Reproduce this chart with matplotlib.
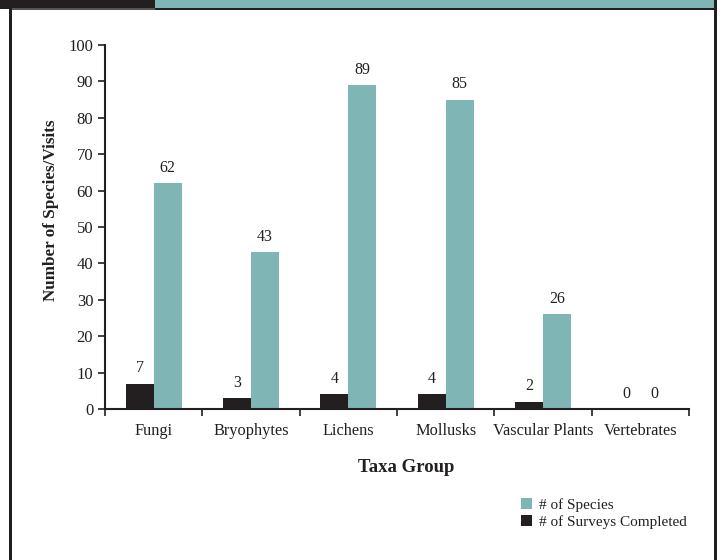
import matplotlib
matplotlib.use("Agg")
import matplotlib.pyplot as plt
import numpy as np
from matplotlib.patches import Rectangle

categories = ["Fungi", "Bryophytes", "Lichens", "Mollusks", "Vascular Plants", "Vertebrates"]
surveys = [7, 3, 4, 4, 2, 0]
species = [62, 43, 89, 85, 26, 0]
yticks = [0, 10, 20, 30, 40, 50, 60, 70, 80, 90, 100]

TEAL = "#7fb5b4"
DARK = "#231f20"
W, H = 722, 560

plt.rcParams["font.family"] = ["Liberation Serif", "DejaVu Serif"]

fig = plt.figure(figsize=(W / 100, H / 100), dpi=100)

def px_rect(x0, y0, x1, y1, color):
    fig.patches.append(Rectangle((x0 / W, 1 - y1 / H), (x1 - x0) / W, (y1 - y0) / H,
                                 transform=fig.transFigure, facecolor=color,
                                 edgecolor="none", zorder=0))

# header and frame
px_rect(0, 0, 155, 9, DARK)
px_rect(155, 0, 715, 8, TEAL)
px_rect(155, 8, 717, 10, DARK)
px_rect(9, 8, 12, 560, DARK)
px_rect(12, 8, 155, 10, "#555555")
px_rect(714, 0, 717, 560, DARK)

ax = fig.add_axes([105 / W, 1 - 409 / H, 584 / W, (409 - 45) / H])
x = np.arange(len(categories))
bw = 0.288
b1 = ax.bar(x - bw / 2, surveys, bw, color=DARK, label="# of Surveys Completed")
b2 = ax.bar(x + bw / 2, species, bw, color=TEAL, label="# of Species")

for rects, vals in ((b1, surveys), (b2, species)):
    for r, v in zip(rects, vals):
        ax.text(r.get_x() + r.get_width() / 2, v + 2.0, str(v), ha="center", va="bottom",
                fontsize=11.5, color=DARK)

ax.set_xlim(-0.5, len(categories) - 0.5)
ax.set_ylim(0, 100)
ax.set_yticks(yticks)
ax.set_yticklabels([str(t) for t in yticks], fontsize=12, color=DARK)
ax.set_xticks(np.arange(len(categories) + 1) - 0.5)
ax.set_xticklabels([])
ax.set_xticks(x, minor=True)
ax.set_xticklabels(categories, minor=True, fontsize=11.8, color=DARK)
ax.tick_params(axis="x", which="minor", length=0, pad=10)
ax.tick_params(axis="x", which="major", length=5, width=1.2, color=DARK, direction="out")
ax.tick_params(axis="y", length=5, width=1.2, color=DARK, direction="out", pad=3.5)

for s in ("top", "right"):
    ax.spines[s].set_visible(False)
for s in ("left", "bottom"):
    ax.spines[s].set_linewidth(1.5)
    ax.spines[s].set_color(DARK)

fig.text(51 / W, 1 - 210 / H, "Number of Species/Visits", rotation=90, ha="center", va="center",
         fontsize=12.3, fontweight="bold", color=DARK)
fig.text(406 / W, 1 - 468 / H, "Taxa Group", ha="center", va="center",
         fontsize=13.5, fontweight="bold", color=DARK)

handles = [b2, b1]
leg = fig.legend(handles, [h.get_label() for h in handles], loc="upper left",
                 bbox_to_anchor=(521 / W, 1 - 498 / H), frameon=False, fontsize=11,
                 handlelength=0.75, handleheight=0.75, handletextpad=0.4, labelspacing=0.2,
                 borderpad=0, borderaxespad=0)
for t in leg.get_texts():
    t.set_color(DARK)

fig.savefig("out.png", dpi=100)
